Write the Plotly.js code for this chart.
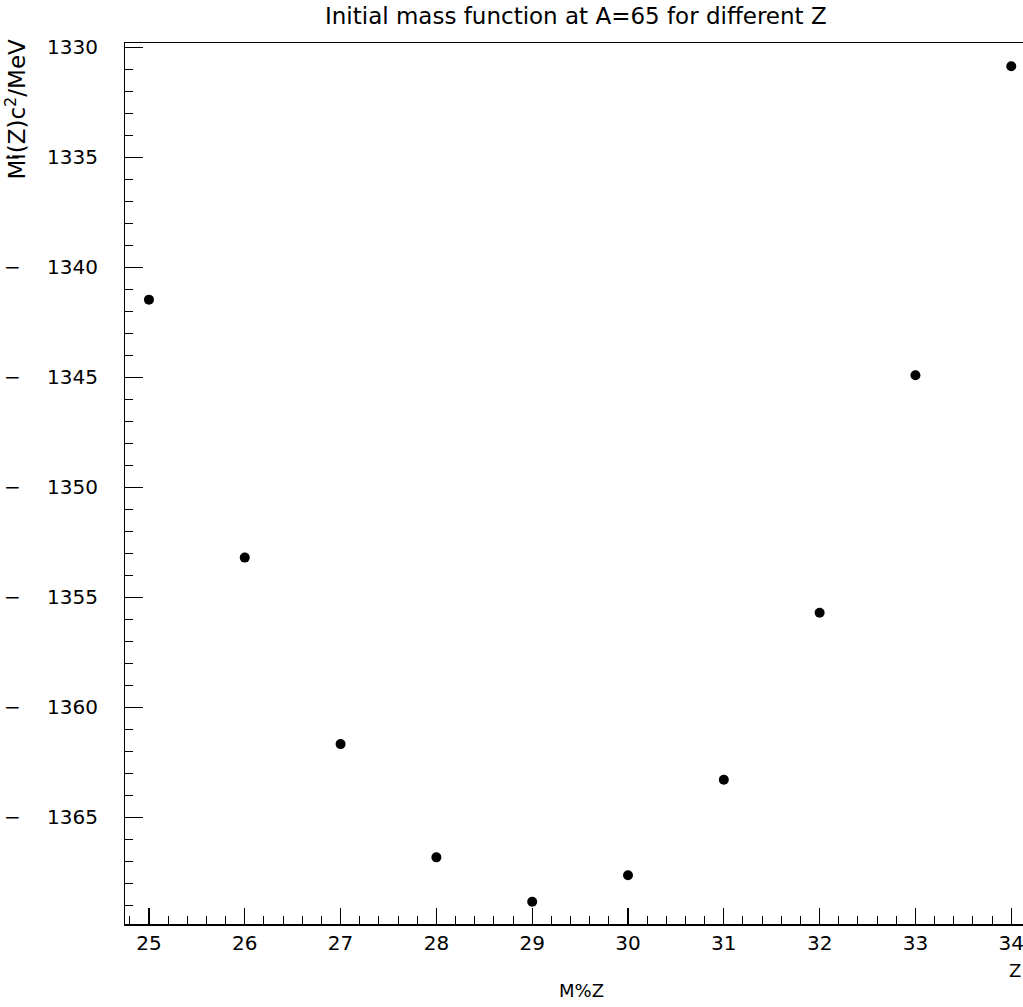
<!DOCTYPE html>
<html>
<head>
<meta charset="utf-8">
<script src="https://cdn.plot.ly/plotly-3.0.1.min.js"></script>
<style>html,body{margin:0;padding:0;overflow:hidden;background:#fff;}</style>
</head>
<body>
<div id="chart" style="width:1040px;height:1007px;"></div>
<script>
const zValues = [25, 26, 27, 28, 29, 30, 31, 32, 33, 34];
const massValues = [-1341.47, -1353.2, -1361.68, -1366.83, -1368.85, -1367.64, -1363.30, -1355.71, -1344.91, -1330.86];
const yTickVals = [-1365, -1360, -1355, -1350, -1345, -1340, -1335, -1330];
const yTickDigits = ['1365', '1360', '1355', '1350', '1345', '1340', '1335', '1330'];
const yTickMinus = [true, true, true, true, true, true, true, false];
const xTickVals = [25, 26, 27, 28, 29, 30, 31, 32, 33, 34];

const font = 'DejaVu Sans, Liberation Sans, sans-serif';

const trace = {
  x: zValues, y: massValues, type: 'scatter', mode: 'markers',
  marker: {color: '#000', size: 10, symbol: 'circle'},
  hoverinfo: 'skip'
};

const tickAnnots = [];
yTickVals.forEach((v, i) => {
  tickAnnots.push({text: yTickDigits[i], xref: 'paper', yref: 'y', x: 0, xshift: -25, y: v,
    xanchor: 'right', yanchor: 'middle', showarrow: false,
    font: {size: 20, family: font, color: '#000'}});
  if (yTickMinus[i]) {
    tickAnnots.push({text: '\u2212', xref: 'paper', yref: 'y', x: 0, xshift: -113, y: v,
      xanchor: 'center', yanchor: 'middle', showarrow: false,
      font: {size: 20, family: font, color: '#000'}});
  }
});

const layout = {
  width: 1040, height: 1007,
  margin: {l: 125, r: 0, t: 43, b: 83},
  paper_bgcolor: '#fff', plot_bgcolor: '#fff',
  showlegend: false,
  font: {family: font, color: '#000'},
  xaxis: {
    range: [24.75, 34.30], showgrid: false, zeroline: false,
    showline: true, mirror: true, linecolor: '#000', linewidth: 1.5,
    tickmode: 'array', tickvals: xTickVals, ticktext: xTickVals.map(String),
    ticks: 'inside', ticklen: 16, tickwidth: 1.2, tickcolor: '#000',
    minor: {dtick: 0.2, ticks: 'inside', ticklen: 8, tickwidth: 1, tickcolor: '#000', showgrid: false},
    tickfont: {size: 20, family: font, color: '#000'}
  },
  yaxis: {
    range: [-1369.86, -1329.8], showgrid: false, zeroline: false,
    showline: true, mirror: true, linecolor: '#000', linewidth: 1.5,
    tickmode: 'array', tickvals: yTickVals, showticklabels: false,
    ticks: 'inside', ticklen: 18, tickwidth: 1.2, tickcolor: '#000',
    minor: {dtick: 1, ticks: 'inside', ticklen: 8, tickwidth: 1, tickcolor: '#000', showgrid: false}
  },
  annotations: tickAnnots.concat([
    {text: 'Initial mass function at A=65 for different Z', xref: 'paper', yref: 'paper',
     x: 0, xshift: 451, y: 1, yshift: 27, xanchor: 'center', yanchor: 'middle', showarrow: false,
     font: {size: 23, family: font, color: '#000'}},
    {text: 'Mi(Z)c<sup>2</sup>/MeV', xref: 'paper', yref: 'paper',
     x: 0, xshift: -110, y: 1, yshift: 6, xanchor: 'center', yanchor: 'top', textangle: -90, showarrow: false,
     font: {size: 23, family: font, color: '#000'}},
    {text: 'Z', xref: 'paper', yref: 'paper', x: 0, xshift: 890, y: 0, yshift: -46,
     xanchor: 'center', yanchor: 'middle', showarrow: false,
     font: {size: 18, family: font, color: '#000'}},
    {text: 'M%Z', xref: 'paper', yref: 'paper', x: 0, xshift: 456, y: 0, yshift: -66,
     xanchor: 'center', yanchor: 'middle', showarrow: false,
     font: {size: 18, family: font, color: '#000'}}
  ])
};

Plotly.newPlot('chart', [trace], layout, {displayModeBar: false, staticPlot: true});
</script>
</body>
</html>
